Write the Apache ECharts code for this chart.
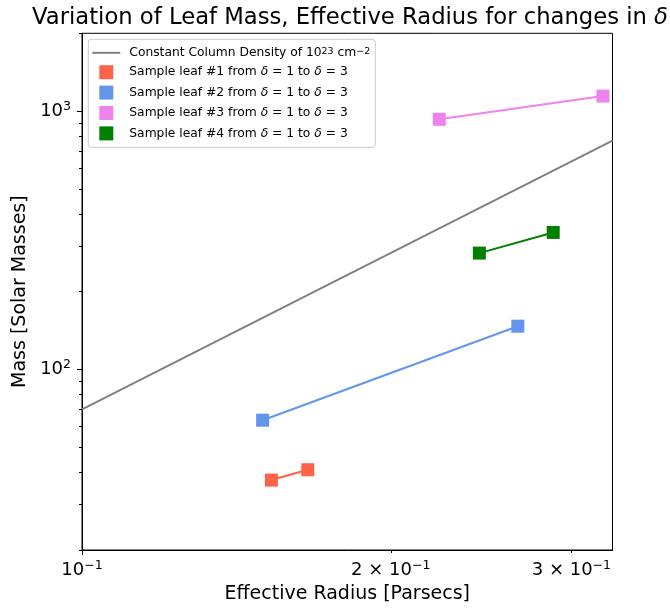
<!DOCTYPE html>
<html>
<head>
<meta charset="utf-8">
<script src="https://cdn.jsdelivr.net/npm/echarts@6/dist/echarts.min.js"></script>
<style>
  html, body { margin: 0; padding: 0; background: #fff; }
  #chart { width: 670px; height: 609px; }
</style>
</head>
<body>
<div id="chart"></div>
<script>
var FONT = 'DejaVu Sans';

// effective radius [pc] and mass [Msun], delta = 1 then delta = 3
var leaf1R = [0.153, 0.166];
var leaf1M = [37.3, 40.9];
var leaf2R = [0.150, 0.266];
var leaf2M = [63.6, 147];
var leaf3R = [0.223, 0.322];
var leaf3M = [929, 1143];
var leaf4R = [0.244, 0.288];
var leaf4M = [282, 339];

// constant column density reference line (ends of the axis)
var densityR = [0.1, 0.329];
var densityM = [70, 768];

var seriesNames = [
  'Constant Column Density of 10²³ cm⁻²',
  'Sample leaf #1 from δ = 1 to δ = 3',
  'Sample leaf #2 from δ = 1 to δ = 3',
  'Sample leaf #3 from δ = 1 to δ = 3',
  'Sample leaf #4 from δ = 1 to δ = 3'
];
var colors = ['#808080', '#ff6347', '#6495ed', '#ee82ee', '#008000'];

var yMajor = [100, 1000];
var yMinor = [20, 30, 40, 50, 60, 70, 80, 90, 200, 300, 400, 500, 600, 700, 800, 900, 2000];
var xLabelVals = [0.1, 0.2, 0.3];
var xMajor = [0.1];
var xMinor = [0.2, 0.3];

function pairs(r, m) {
  return r.map(function (v, i) { return [v, m[i]]; });
}

var tickRich = {
  b: { fontFamily: FONT, fontSize: 18, color: '#000', lineHeight: 22 },
  s: { fontFamily: FONT, fontSize: 12.5, color: '#000', lineHeight: 13, verticalAlign: 'top' }
};

function yLabel(v) {
  var e = Math.round(Math.log(v) / Math.LN10);
  return '{b|10}{s|' + e + '}';
}
function xLabel(v) {
  var m = Math.round(v * 10);
  return m === 1 ? '{b|10}{s|−1}' : '{b|' + m + ' × 10}{s|−1}';
}

var chart = echarts.init(document.getElementById('chart'));

var leafData = [pairs(leaf1R, leaf1M), pairs(leaf2R, leaf2M), pairs(leaf3R, leaf3M), pairs(leaf4R, leaf4M)];

var series = [{
  name: seriesNames[0],
  type: 'line',
  data: pairs(densityR, densityM),
  symbol: 'none',
  itemStyle: { color: colors[0] },
  lineStyle: { color: colors[0], width: 2 },
  z: 2
}];
leafData.forEach(function (d, i) {
  series.push({
    name: seriesNames[i + 1],
    type: 'line',
    data: d,
    symbol: 'rect',
    symbolSize: 13,
    itemStyle: { color: colors[i + 1] },
    lineStyle: { color: colors[i + 1], width: 2 },
    z: 3
  });
});

var legendData = seriesNames.map(function (n, i) {
  return {
    name: n,
    icon: i === 0 ? 'path://M0,0H28V2H0Z' : 'path://M0,0H10V10H0Z',
    itemStyle: { color: colors[i] }
  };
});

var option = {
  animation: false,
  backgroundColor: '#fff',
  title: {
    text: 'Variation of Leaf Mass, Effective Radius for changes in {i|δ}',
    left: 27,
    top: 2,
    textStyle: {
      fontFamily: FONT, fontSize: 22.7, fontWeight: 'normal', color: '#000',
      rich: { i: { fontFamily: FONT, fontSize: 22.7, fontStyle: 'italic', color: '#000' } }
    }
  },
  grid: {
    left: 82, right: 57.5, top: 33.3, bottom: 58.3,
    show: true, borderColor: '#000', borderWidth: 1, backgroundColor: 'transparent'
  },
  legend: {
    orient: 'vertical',
    left: 88.3,
    top: 39.3,
    padding: [7.5, 5, 7, 4],
    itemWidth: 28,
    itemHeight: 14,
    itemGap: 6.4,
    backgroundColor: 'rgba(255,255,255,0.8)',
    borderColor: '#cccccc',
    borderWidth: 1,
    borderRadius: 3,
    data: legendData,
    formatter: function (name) {
      return '{p|}' + name.replace(/δ/g, '{i|δ}').replace('²³', '{s|23}').replace('⁻²', '{s|−2}');
    },
    textStyle: {
      fontFamily: FONT, fontSize: 12.3, color: '#000',
      rich: {
        p: { width: 4 },
        i: { fontFamily: FONT, fontSize: 12.3, fontStyle: 'italic', color: '#000' },
        s: { fontFamily: FONT, fontSize: 9.5, color: '#000', lineHeight: 10, verticalAlign: 'top' }
      }
    }
  },
  xAxis: [{
    type: 'log', logBase: 10, min: 0.1, max: 0.329, position: 'bottom',
    axisLine: { show: true, lineStyle: { color: '#000', width: 1 } },
    axisTick: { show: true, customValues: xMajor, length: 5, lineStyle: { color: '#000' } },
    axisLabel: { customValues: xLabelVals, formatter: xLabel, margin: 9, rich: tickRich },
    splitLine: { show: false },
    minorTick: { show: false },
    name: 'Effective Radius [Parsecs]',
    nameLocation: 'middle',
    nameGap: 35,
    nameTextStyle: { fontFamily: FONT, fontSize: 19, color: '#000' }
  }, {
    type: 'log', logBase: 10, min: 0.1, max: 0.329, position: 'bottom',
    axisLine: { show: false },
    axisTick: { show: true, customValues: xMinor, length: 3, lineStyle: { color: '#000' } },
    axisLabel: { show: false },
    splitLine: { show: false }
  }],
  yAxis: [{
    type: 'log', logBase: 10, min: 20, max: 2000, position: 'left',
    axisLine: { show: true, lineStyle: { color: '#000', width: 1 } },
    axisTick: { show: true, customValues: yMajor, length: 5, lineStyle: { color: '#000' } },
    axisLabel: { customValues: yMajor, formatter: yLabel, margin: 11, rich: tickRich },
    splitLine: { show: false },
    name: 'Mass [Solar Masses]',
    nameLocation: 'middle',
    nameGap: 49,
    nameTextStyle: { fontFamily: FONT, fontSize: 19, color: '#000' }
  }, {
    type: 'log', logBase: 10, min: 20, max: 2000, position: 'left',
    axisLine: { show: false },
    axisTick: { show: true, customValues: yMinor, length: 3, lineStyle: { color: '#000' } },
    axisLabel: { show: false },
    splitLine: { show: false }
  }],
  series: series
};

chart.setOption(option);
</script>
</body>
</html>
